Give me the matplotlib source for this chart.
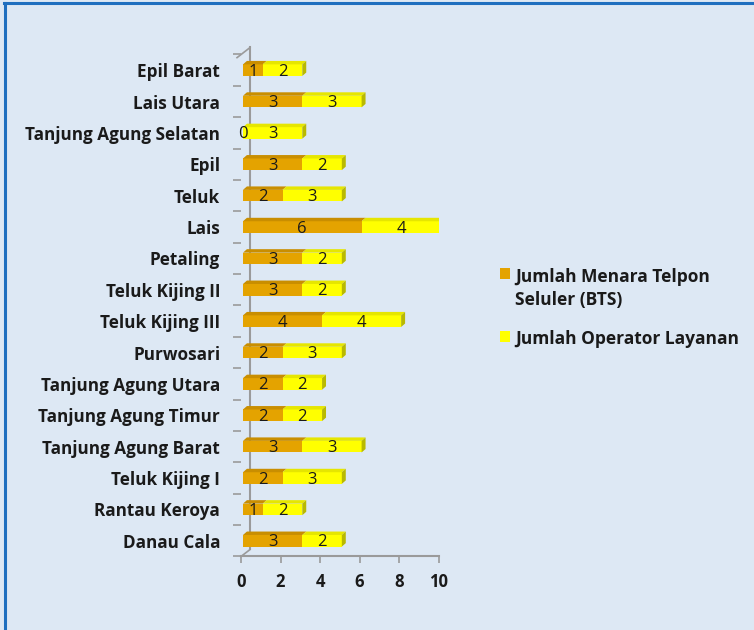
import numpy as np
import matplotlib
matplotlib.use("Agg")
import matplotlib.pyplot as plt
from matplotlib.patches import Polygon, Rectangle
from matplotlib.lines import Line2D
import matplotlib.transforms as mtransforms

# data, top to bottom as in the chart
Desa = ["Epil Barat", "Lais Utara", "Tanjung Agung Selatan", "Epil", "Teluk",
        "Lais", "Petaling", "Teluk Kijing II", "Teluk Kijing III", "Purwosari",
        "Tanjung Agung Utara", "Tanjung Agung Timur", "Tanjung Agung Barat",
        "Teluk Kijing I", "Rantau Keroya", "Danau Cala"]
Menara_BTS = [1, 3, 0, 3, 2, 6, 3, 3, 4, 2, 2, 2, 3, 2, 1, 3]
Operator = [2, 3, 3, 2, 3, 4, 2, 2, 4, 3, 2, 2, 3, 3, 2, 2]
Legend_Labels = ["Jumlah Menara Telpon\nSeluler (BTS)", "Jumlah Operator Layanan"]
X_Ticks = [0, 2, 4, 6, 8, 10]

BG = "#dde8f4"
FONT = "Open Sans"
C_BTS = "#e4a300"
C_OPR = "#ffff00"


def draw_stack(ax, trans, ypos, lefts, widths, front, top, side, last):
    H = 0.37    # front face height (category units)
    DX = 0.2    # 3d depth in x (data units)
    DY = 0.11   # 3d depth in y
    ax.barh(ypos, widths, left=lefts, height=H, color=front, linewidth=0, zorder=3,
            transform=trans)
    for y, l, w in zip(ypos, lefts, widths):
        if w <= 0:
            continue
        t = y + H / 2
        ax.add_patch(Polygon([(l, t), (l + w, t), (l + w + DX, t + DY), (l + DX, t + DY)],
                             closed=True, facecolor=top, linewidth=0, zorder=3,
                             transform=trans))
        if last:
            b = y - H / 2
            ax.add_patch(Polygon([(l + w, b), (l + w + DX, b + DY), (l + w + DX, t + DY), (l + w, t)],
                                 closed=True, facecolor=side, linewidth=0, zorder=3,
                                 transform=trans))


def main():
    fig = plt.figure(figsize=(7.54, 6.30), dpi=100, facecolor=BG)
    ax = fig.add_axes([0.3196, 0.1167, 0.2622, 0.7968])
    ax.set_facecolor(BG)

    n = len(Desa)
    ypos = np.arange(n)[::-1]
    bts = np.array(Menara_BTS)
    opr = np.array(Operator)

    # bars sit a little in front of the axis wall
    bar_tr = mtransforms.offset_copy(ax.transData, fig=fig, x=2, y=0, units="dots")
    draw_stack(ax, bar_tr, ypos, np.zeros(n), bts, C_BTS, "#c98e00", "#a87700", False)
    draw_stack(ax, bar_tr, ypos, bts, opr, C_OPR, "#e6e600", "#b9b900", True)

    # value labels in the middle of every segment
    for y, a, b in zip(ypos, bts, opr):
        ax.text(a / 2, y - 0.05, str(a), ha="center", va="center", transform=bar_tr,
                fontsize=12, family=FONT, color="#1a1a1a", zorder=5)
        ax.text(a + b / 2, y - 0.05, str(b), ha="center", va="center", transform=bar_tr,
                fontsize=12, family=FONT, color="#1a1a1a", zorder=5)

    ax.set_xlim(0, 10)
    ax.set_ylim(-0.5, n - 0.5)
    ax.set_xticks(X_Ticks)
    ax.set_xticklabels([str(v) for v in X_Ticks], fontsize=12, fontweight="bold",
                       family=FONT, color="#1a1a1a")
    ax.set_yticks(ypos)
    ax.set_yticklabels(Desa, fontsize=12.3, fontweight="bold", family=FONT, color="#1a1a1a")
    ax.tick_params(axis="y", length=0, pad=15)
    ax.set_yticks(np.arange(n + 1) - 0.5, minor=True)
    ax.tick_params(axis="y", which="minor", length=6, color="#9a9a9a", width=1.2)
    ax.tick_params(axis="x", length=5, color="#9a9a9a", width=1.2, pad=7)

    for s in ["top", "right", "left"]:
        ax.spines[s].set_visible(False)
    ax.spines["bottom"].set_color("#9a9a9a")
    ax.spines["bottom"].set_linewidth(1.5)

    # back wall of the 3d axis
    back = mtransforms.offset_copy(ax.transData, fig=fig, x=9, y=7, units="dots")
    ax.plot([0, 0], [-0.5, n - 0.5], color="#9a9a9a", lw=1.5, transform=back,
            clip_on=False, zorder=1)
    ax.plot([0, 0.455], [-0.5, -0.28], color="#9a9a9a", lw=1.2, clip_on=False, zorder=1)
    ax.plot([-0.2, 0.455], [n - 0.6, n - 0.28], color="#9a9a9a", lw=1.2, clip_on=False, zorder=1)

    # legend, drawn by hand so the square sits on the first line
    W, H = 754.0, 630.0
    sq = 10.5
    for color, label, y_top in zip([C_BTS, C_OPR], Legend_Labels, [268, 331]):
        fig.add_artist(Rectangle((500 / W, 1 - (y_top + sq) / H), sq / W, sq / H,
                                 facecolor=color, edgecolor="none", transform=fig.transFigure))
        for k, line in enumerate(label.split("\n")):
            fig.text(515 / W, 1 - (y_top + 13.5 + 23.5 * k) / H, line, ha="left",
                     va="baseline", family=FONT, fontweight="bold", fontsize=12.5,
                     color="#1a1a1a")

    # blue frame on the left and top
    fig.add_artist(Line2D([0.0066, 0.0066], [0, 0.995], color="#1f6fbf", lw=2.2,
                          transform=fig.transFigure))
    fig.add_artist(Line2D([0.0053, 1], [0.995, 0.995], color="#1f6fbf", lw=2.2,
                          transform=fig.transFigure))

    fig.savefig("out.png", dpi=100, facecolor=BG)


if __name__ == "__main__":
    main()
